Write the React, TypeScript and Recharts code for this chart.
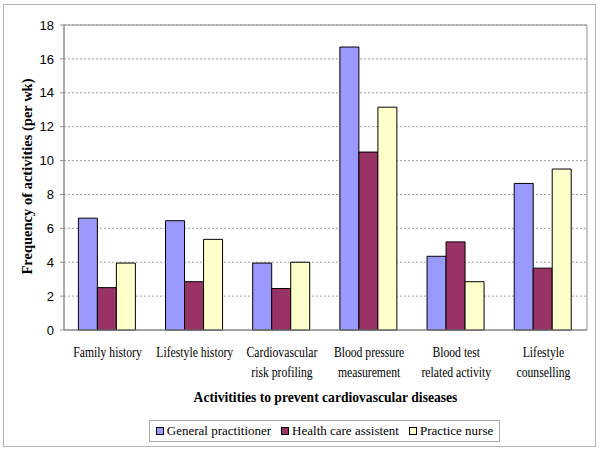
import { Bar, BarChart, CartesianGrid, ReferenceArea, XAxis, YAxis } from "recharts";

// categories; "\n" marks the line break used under the axis
const activities = [
  "Family history",
  "Lifestyle history",
  "Cardiovascular\nrisk profiling",
  "Blood pressure\nmeasurement",
  "Blood test\nrelated activity",
  "Lifestyle\ncounselling",
];

const generalPractitioner = [6.6, 6.45, 3.95, 16.7, 4.35, 8.65];
const healthCareAssistent = [2.5, 2.85, 2.45, 10.5, 5.2, 3.65];
const practiceNurse = [3.95, 5.35, 4.0, 13.15, 2.85, 9.5];

const yTicks = [0, 2, 4, 6, 8, 10, 12, 14, 16, 18];
const edgeTicks = [0, 1, 2, 3, 4, 5, 6];

const series = [
  { key: "gp", name: "General practitioner", color: "#9999ff" },
  { key: "hca", name: "Health care assistent", color: "#993366" },
  { key: "pn", name: "Practice nurse", color: "#ffffcc" },
];

const data = activities.map((name, i) => ({
  name,
  gp: generalPractitioner[i],
  hca: healthCareAssistent[i],
  pn: practiceNurse[i],
}));

const SERIF = "'Liberation Serif', 'Times New Roman', serif";
const SANS = "'Liberation Sans', Arial, sans-serif";
// category labels in the original look narrowed
const SQUASH = 0.75;

function CategoryTick({ x, y, payload }: any) {
  const lines = String(payload.value).split("\n");
  return (
    <g transform={`translate(${x},${y}) scale(${SQUASH},1)`}>
      <text textAnchor="middle" fontFamily={SERIF} fontSize={15.6} fill="#000">
        {lines.map((l, i) => (
          <tspan key={i} x={0} y={27 + i * 20}>
            {l}
          </tspan>
        ))}
      </text>
    </g>
  );
}

function XTitle({ viewBox }: any) {
  const cx = viewBox.x + viewBox.width / 2;
  return (
    <text
      x={cx}
      y={viewBox.y + 72}
      textAnchor="middle"
      fontFamily={SERIF}
      fontWeight="bold"
      fontSize={13.6}
      fill="#000"
    >
      Activitities to prevent cardiovascular diseases
    </text>
  );
}

function YTitle({ viewBox }: any) {
  const cy = viewBox.y + viewBox.height / 2;
  return (
    <text
      x={0}
      y={0}
      transform={`translate(32,${cy - 1}) rotate(-90)`}
      textAnchor="middle"
      fontFamily={SERIF}
      fontWeight="bold"
      fontSize={14.5}
      fill="#000"
    >
      Frequency of activities (per wk)
    </text>
  );
}

function LegendBox() {
  return (
    <div
      style={{
        position: "absolute",
        left: 149,
        top: 420,
        width: 351,
        height: 22,
        boxSizing: "border-box",
        border: "1px solid #a8a8a8",
        display: "flex",
        alignItems: "center",
        justifyContent: "center",
        whiteSpace: "nowrap",
        fontFamily: SERIF,
        fontSize: 13,
        lineHeight: "20px",
      }}
    >
      {series.map((s, i) => (
        <span key={s.key} style={{ display: "flex", alignItems: "center", marginLeft: i ? 10 : 0 }}>
          <span
            style={{
              display: "inline-block",
              width: 8,
              height: 8,
              boxSizing: "border-box",
              background: s.color,
              border: "1px solid #000",
              marginRight: 3,
            }}
          />
          {s.name}
        </span>
      ))}
    </div>
  );
}

export default function App() {
  return (
    <div style={{ position: "absolute", left: 0, top: 0, width: 600, height: 450, background: "#fff" }}>
      <div
        style={{
          position: "absolute",
          left: 3,
          top: 4,
          width: 593,
          height: 443,
          boxSizing: "border-box",
          border: "1px solid #b4b4b4",
        }}
      />
      <BarChart
        width={600}
        height={450}
        data={data}
        margin={{ top: 25, right: 13, left: 0, bottom: 0 }}
        barCategoryGap="16.5%"
        barGap={0}
      >
        <CartesianGrid vertical={false} stroke="#a0a0a0" strokeDasharray="2 2" />
        <XAxis
          xAxisId="edge"
          type="number"
          domain={[0, 6]}
          ticks={edgeTicks}
          height={0}
          axisLine={false}
          tick={false}
          tickSize={5}
          tickLine={{ stroke: "#909090" }}
          allowDataOverflow
        />
        <XAxis
          dataKey="name"
          height={120}
          interval={0}
          tickLine={false}
          tickSize={0}
          tickMargin={0}
          axisLine={{ stroke: "#909090" }}
          tick={<CategoryTick />}
          label={<XTitle />}
        />
        <YAxis
          width={64}
          domain={[0, 18]}
          ticks={yTicks}
          interval={0}
          tickSize={4}
          tickMargin={6}
          tickLine={{ stroke: "#909090" }}
          axisLine={{ stroke: "#909090" }}
          tick={{ fontFamily: SANS, fontSize: 13, fill: "#000" }}
          label={<YTitle />}
        />
        <ReferenceArea y1={0} y2={18} fill="none" stroke="#909090" strokeWidth={1} />
        {series.map((s) => (
          <Bar
            key={s.key}
            dataKey={s.key}
            name={s.name}
            fill={s.color}
            stroke="#000"
            strokeWidth={1}
            isAnimationActive={false}
          />
        ))}
      </BarChart>
      <LegendBox />
    </div>
  );
}
